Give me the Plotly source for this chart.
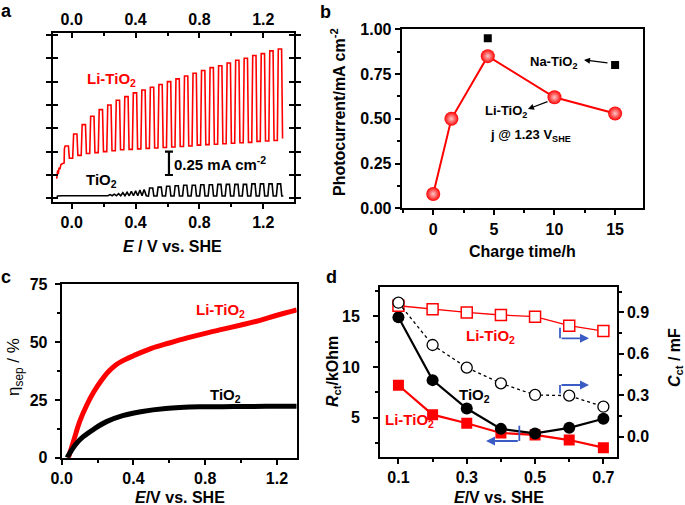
import plotly.graph_objects as go

W, H = 685, 505
def PX(p): return p / W
def PY(p): return 1 - p / H

# ---------------- Panel a data (chopped-light LSV) ----------------
a_chop_period = 0.0534
a_li_first_center = -0.034
a_li_tops = [0.56, 0.69, 0.79, 0.88, 0.95, 1.00, 1.05, 1.09, 1.13, 1.16, 1.19, 1.22, 1.25,
             1.28, 1.31, 1.34, 1.37, 1.40, 1.42, 1.45, 1.48, 1.50, 1.53, 1.55, 1.58, 1.60]
a_li_bottoms = [0.38, 0.43, 0.46, 0.48, 0.49, 0.50, 0.51, 0.52, 0.525, 0.53, 0.535, 0.54, 0.545,
                0.55, 0.555, 0.56, 0.57, 0.575, 0.58, 0.585, 0.59, 0.595, 0.60, 0.61, 0.615, 0.62]
a_li_end = 0.64
a_li_start_E = [-0.094, -0.088, -0.084, -0.079, -0.074, -0.068, -0.060]
a_li_start_I = [0.21, 0.30, 0.26, 0.33, 0.31, 0.36, 0.37]

a_ti_flat_E = [-0.094, -0.089, -0.06, 0.05, 0.15, 0.20]
a_ti_flat_I = [-0.005, 0.025, 0.027, 0.028, 0.028, 0.028]
a_ti_osc_start = 0.20
a_ti_osc_period = 0.0267
a_ti_osc_peaks = [0.035, 0.04, 0.045, 0.05, 0.06, 0.065, 0.075, 0.08, 0.09, 0.095]
a_ti_osc_base = 0.028
a_ti_first_center = 0.494
a_ti_tops = [0.11, 0.12, 0.13, 0.135, 0.14, 0.14, 0.145, 0.145, 0.15, 0.15, 0.15, 0.15,
             0.155, 0.155, 0.155, 0.155]
a_ti_base = 0.025
a_scale_E = 0.609
a_scale_I = [0.25, 0.50]

# ---------------- Panel b data ----------------
b_time = [0, 1.5, 4.5, 10, 15]
b_li = [0.08, 0.50, 0.85, 0.62, 0.53]
b_na_time = [4.5, 15]
b_na = [0.95, 0.80]

# ---------------- Panel c data ----------------
c_E_li = [0.037, 0.065, 0.10, 0.14, 0.18, 0.22, 0.26, 0.30, 0.35, 0.40, 0.50, 0.60, 0.70,
          0.80, 0.90, 1.00, 1.10, 1.20, 1.31]
c_li = [0, 6.9, 15.6, 22.8, 28.6, 33.3, 37.2, 40.0, 42.3, 44.1, 47.3, 49.6, 51.8, 53.8,
        55.6, 57.4, 59.3, 61.6, 63.9]
c_E_ti = [0.03, 0.05, 0.08, 0.12, 0.18, 0.25, 0.34, 0.44, 0.58, 0.77, 0.96, 1.14, 1.31]
c_ti = [0, 2.6, 6.0, 9.1, 12.4, 15.6, 18.2, 19.9, 21.3, 22.0, 22.1, 22.2, 22.3]

# ---------------- Panel d data ----------------
d_E = [0.1, 0.2, 0.3, 0.4, 0.5, 0.6, 0.7]
d_rct_li = [8.2, 5.3, 4.45, 3.5, 3.3, 2.8, 2.05]
d_rct_ti = [14.9, 8.7, 5.9, 3.9, 3.45, 4.0, 4.9]
d_cct_ti = [0.97, 0.664, 0.50, 0.386, 0.302, 0.297, 0.217]
d_cct_li = [0.948, 0.922, 0.90, 0.881, 0.869, 0.804, 0.765]

RED = "#ff0000"
BLUE = "#3b5cc4"
FONT = "Liberation Sans, Arial, sans-serif"

# ---- build chopped traces from per-cycle values ----
q = a_chop_period / 4
li_x, li_y = list(a_li_start_E), list(a_li_start_I)
for i, (t, b) in enumerate(zip(a_li_tops, a_li_bottoms)):
    c = a_li_first_center + i * a_chop_period
    on, off = c - q, c + q
    nb = a_li_bottoms[i + 1] if i + 1 < len(a_li_bottoms) else a_li_end
    li_x += [on, on + 0.0015, on + 0.006, off, off + 0.0015, off + 0.006]
    li_y += [b, t - 0.03, t, t, nb + 0.03, nb]

ti_x, ti_y = list(a_ti_flat_E), list(a_ti_flat_I)
for k, pk in enumerate(a_ti_osc_peaks):
    s = a_ti_osc_start + k * a_ti_osc_period
    ti_x += [s + a_ti_osc_period * 0.5, s + a_ti_osc_period]
    ti_y += [pk, a_ti_osc_base]
for k, t in enumerate(a_ti_tops):
    c = a_ti_first_center + k * a_chop_period
    on, off = c - q, c + q
    ti_x += [on, on + 0.002, on + 0.007, off, off + 0.002, off + 0.007]
    ti_y += [a_ti_base, t - 0.03, t, t, a_ti_base + 0.03, a_ti_base]
ti_x += [ti_x[-1] + 0.01]
ti_y += [a_ti_base]

fig = go.Figure()
# panel a
fig.add_trace(go.Scatter(x=li_x, y=li_y, mode="lines", line=dict(color=RED, width=1.6),
                         xaxis="x", yaxis="y", showlegend=False))
fig.add_trace(go.Scatter(x=ti_x, y=ti_y, mode="lines", line=dict(color="black", width=1.6),
                         xaxis="x", yaxis="y", showlegend=False))
cap = 0.025
fig.add_trace(go.Scatter(
    x=[a_scale_E - cap, a_scale_E + cap, None, a_scale_E, a_scale_E, None,
       a_scale_E - cap, a_scale_E + cap],
    y=[a_scale_I[1], a_scale_I[1], None, a_scale_I[1], a_scale_I[0], None,
       a_scale_I[0], a_scale_I[0]],
    mode="lines", line=dict(color="black", width=2.2), xaxis="x", yaxis="y", showlegend=False))
# top axis of panel a (empty trace so the axis is drawn)
fig.add_trace(go.Scatter(x=[None], y=[None], mode="lines", xaxis="x5", yaxis="y",
                         showlegend=False, hoverinfo="skip"))

# panel b
fig.add_trace(go.Scatter(x=b_time, y=b_li, mode="lines+markers",
                         line=dict(color=RED, width=2),
                         marker=dict(size=14, color=RED, line=dict(width=0),
                                     gradient=dict(type="radial", color="#ffc8c8")),
                         xaxis="x2", yaxis="y2", showlegend=False))
fig.add_trace(go.Scatter(x=b_na_time, y=b_na, mode="markers",
                         marker=dict(size=8, color="black", symbol="square"),
                         xaxis="x2", yaxis="y2", showlegend=False))

# panel c
fig.add_trace(go.Scatter(x=c_E_li, y=c_li, mode="lines", line=dict(color=RED, width=5, shape="spline"),
                         xaxis="x3", yaxis="y3", showlegend=False))
fig.add_trace(go.Scatter(x=c_E_ti, y=c_ti, mode="lines", line=dict(color="black", width=5, shape="spline"),
                         xaxis="x3", yaxis="y3", showlegend=False))

# panel d
fig.add_trace(go.Scatter(x=d_E, y=d_cct_li, mode="lines+markers",
                         line=dict(color=RED, width=1.3),
                         marker=dict(size=11, symbol="square", color="white", line=dict(color=RED, width=1.5)),
                         xaxis="x4", yaxis="y6", showlegend=False))
fig.add_trace(go.Scatter(x=d_E, y=d_cct_ti, mode="lines+markers",
                         line=dict(color="black", width=1.3, dash="dot"),
                         marker=dict(size=11, symbol="circle", color="white", line=dict(color="black", width=1.3)),
                         xaxis="x4", yaxis="y6", showlegend=False))
fig.add_trace(go.Scatter(x=d_E, y=d_rct_li, mode="lines+markers",
                         line=dict(color=RED, width=2.2),
                         marker=dict(size=11, symbol="square", color=RED),
                         xaxis="x4", yaxis="y4", showlegend=False))
fig.add_trace(go.Scatter(x=d_E, y=d_rct_ti, mode="lines+markers",
                         line=dict(color="black", width=2.2),
                         marker=dict(size=12, symbol="circle", color="black"),
                         xaxis="x4", yaxis="y4", showlegend=False))

tickfont = dict(family=FONT, size=16, color="black", weight="bold")
minor_out = lambda dt, t0=0: dict(ticks="outside", dtick=dt, tick0=t0, ticklen=3, tickwidth=2, tickcolor="black")
minor_in = lambda dt, t0=0: dict(ticks="inside", dtick=dt, tick0=t0, ticklen=3, tickwidth=2, tickcolor="black")
def ax(**kw):
    d = dict(showline=True, linecolor="black", linewidth=2, ticklen=5, tickwidth=2,
             tickcolor="black", tickfont=tickfont, showgrid=False, zeroline=False,
             automargin=False)
    d.update(kw)
    return d

fig.update_layout(
    template="none",
    width=W, height=H, margin=dict(l=0, r=0, t=0, b=0, autoexpand=False),
    paper_bgcolor="white", plot_bgcolor="white",
    font=dict(family=FONT, color="black"),
    # panel a
    xaxis=ax(domain=[PX(52.7), PX(294)], range=[-0.119, 1.392], anchor="y",
             tick0=0, dtick=0.4, tickformat=".1f", ticks="outside", mirror=True, minor=minor_out(0.2)),
    xaxis5=ax(overlaying="x", side="top", anchor="y", range=[-0.119, 1.392],
              tick0=0, dtick=0.4, tickformat=".1f", ticks="inside", minor=minor_in(0.2)),
    yaxis=ax(domain=[PY(201.7), PY(33.3)], range=[-0.036, 1.768], anchor="x",
             tick0=0, dtick=0.25, showticklabels=False, ticks="inside", mirror="allticks"),
    # panel b
    xaxis2=ax(domain=[PX(401.7), PX(643)], range=[-2.6, 17.3], anchor="y2",
              tick0=0, dtick=5, ticks="outside", mirror=True, minor=minor_out(2.5)),
    yaxis2=ax(domain=[PY(208.3), PY(29.3)], range=[0, 1.0], anchor="x2",
              tick0=0, dtick=0.25, tickformat=".2f", ticks="outside", mirror=True, minor=minor_out(0.125)),
    # panel c
    xaxis3=ax(domain=[PX(61.7), PX(296.7)], range=[0, 1.31], anchor="y3",
              tick0=0, dtick=0.4, tickformat=".1f", ticks="outside", mirror=True, minor=minor_out(0.2)),
    yaxis3=ax(domain=[PY(457.7), PY(284.3)], range=[0, 75], anchor="x3", ticklabelstandoff=4,
              tick0=0, dtick=25, ticks="outside", mirror=True, minor=minor_out(12.5)),
    # panel d
    xaxis4=ax(domain=[PX(380), PX(616.7)], range=[0.046, 0.739], anchor="y4",
              tick0=0.1, dtick=0.2, tickformat=".1f", ticks="outside", mirror=True, minor=minor_out(0.1, 0.1)),
    yaxis4=ax(domain=[PY(456.7), PY(286.7)], range=[1.16, 17.9], anchor="x4", ticklabelstandoff=10,
              tick0=0, dtick=5, ticks="outside", mirror=True, minor=minor_out(2.5)),
    yaxis6=ax(overlaying="y4", side="right", anchor="x4", range=[-0.145, 1.086],
              tick0=0, dtick=0.3, tickformat=".1f", ticks="outside", minor=minor_out(0.15)),
)

ann = []
def txt(x, y, s, size=15, color="black", bold=True, xanchor="center", angle=0):
    ann.append(dict(x=PX(x), y=PY(y), xref="paper", yref="paper", text=s, showarrow=False,
                    xanchor=xanchor, yanchor="middle", textangle=angle,
                    font=dict(family=FONT, size=size, color=color, weight="bold" if bold else "normal")))

def arrow(hx, hy, tx, ty, color="black", width=1.2, head=2, size=1.0):
    ann.append(dict(x=PX(hx), y=PY(hy), xref="paper", yref="paper", ax=tx - hx, ay=ty - hy,
                    axref="pixel", ayref="pixel", text="", showarrow=True, arrowhead=head,
                    arrowsize=size, arrowwidth=width, arrowcolor=color))

# panel labels
txt(6, 11, "a", size=18)
txt(325, 12, "b", size=18)
txt(6, 277, "c", size=18)
txt(331, 277, "d", size=18)

# panel a
txt(111, 79, "Li-TiO<sub>2</sub>", size=15, color=RED)
txt(101, 180, "TiO<sub>2</sub>", size=15)
txt(172, 163, "0.25 mA cm<sup>-2</sup>", size=15, xanchor="left")
txt(172, 246, "<i>E</i> / V vs. SHE", size=16)

# panel b
txt(553, 62, "Na-TiO<sub>2</sub>", size=13)
arrow(584, 60, 609, 63)
txt(506, 112, "Li-TiO<sub>2</sub>", size=13)
arrow(528, 109, 549, 101)
txt(530, 135, "j @ 1.23 V<sub>SHE</sub>", size=13)
txt(522, 251, "Charge time/h", size=16)
txt(338, 112, "Photocurrent/mA cm<sup>-2</sup>", size=16, angle=-90)

# panel c
txt(220, 310, "Li-TiO<sub>2</sub>", size=15, color=RED)
txt(226, 395, "TiO<sub>2</sub>", size=15)
txt(180, 497, "<i>E</i>/V vs. SHE", size=16)
txt(15, 367, "η<sub>sep</sub> / %", size=17, bold=False, angle=-90)

# panel d
txt(491, 336, "Li-TiO<sub>2</sub>", size=15, color=RED)
txt(474, 395, "TiO<sub>2</sub>", size=15)
txt(409, 420, "Li-TiO<sub>2</sub>", size=15, color=RED)
txt(499, 497, "<i>E</i>/V vs. SHE", size=16)
txt(333, 372, "<i>R</i><sub>ct</sub>/kOhm", size=16, angle=-90)
txt(675, 358, "<i>C</i><sub>ct</sub> / mF", size=16, angle=-90)

# blue bracket arrows in panel d
arrow(589, 338.3, 560, 338.3, color=BLUE, width=1.8, head=2)
arrow(589, 385, 560, 385, color=BLUE, width=1.8, head=2)
arrow(486, 441, 519.3, 441, color=BLUE, width=1.8, head=2)
shapes = [
    dict(type="line", xref="paper", yref="paper", x0=PX(560), x1=PX(560), y0=PY(327.7), y1=PY(338.3),
         line=dict(color=BLUE, width=1.8)),
    dict(type="line", xref="paper", yref="paper", x0=PX(560), x1=PX(560), y0=PY(385), y1=PY(393.5),
         line=dict(color=BLUE, width=1.8)),
    dict(type="line", xref="paper", yref="paper", x0=PX(519.3), x1=PX(519.3), y0=PY(425.7), y1=PY(441),
         line=dict(color=BLUE, width=1.8)),
]
fig.update_layout(annotations=ann, shapes=shapes)
fig.write_html("out.html", config={"displayModeBar": False},
               post_script="document.body.style.margin='0';document.body.style.overflow='hidden';")
